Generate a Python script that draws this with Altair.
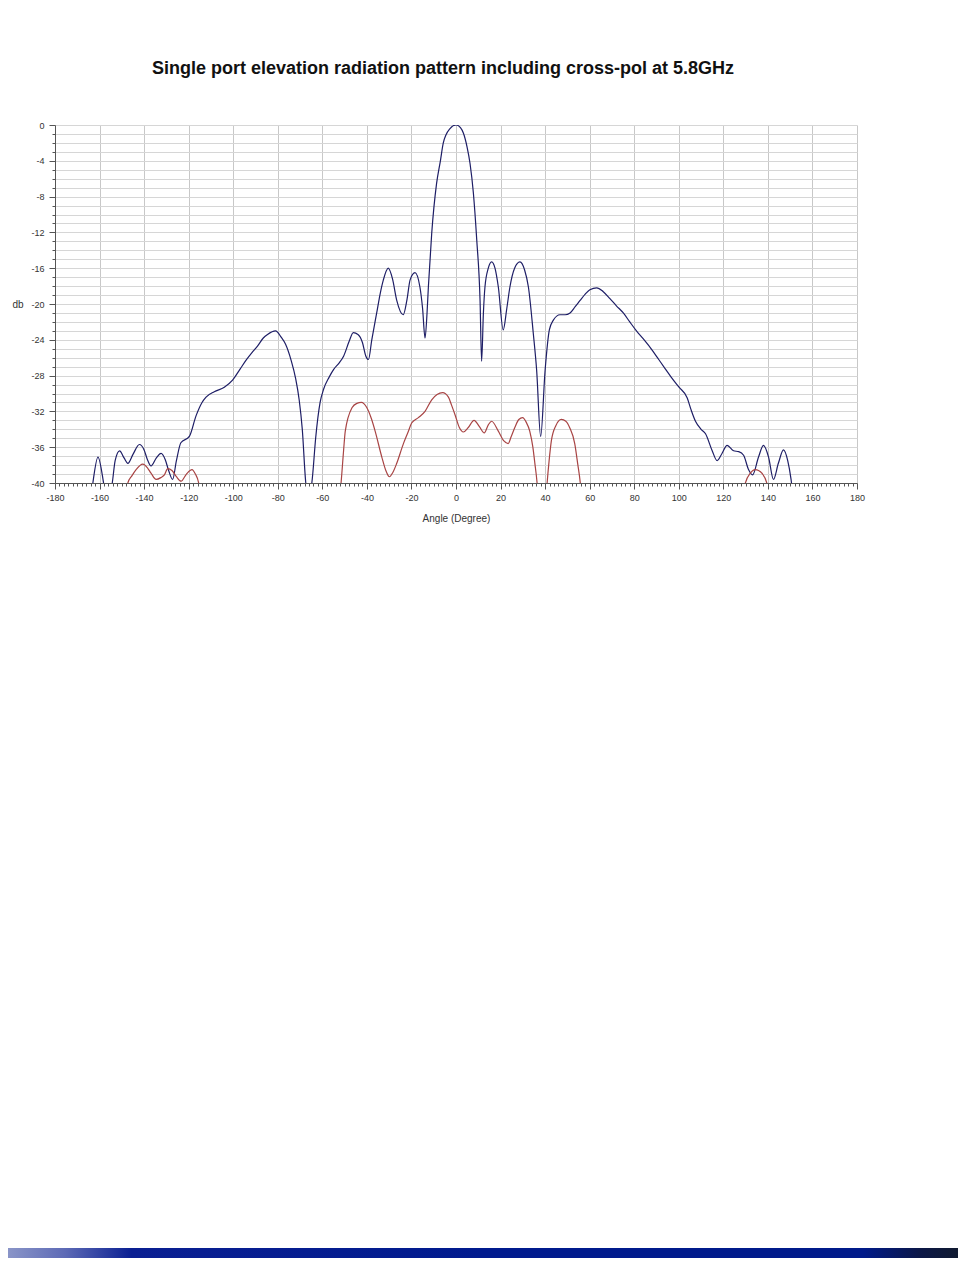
import altair as alt
import pandas as pd

# Co-polar (blue) pattern: angle (deg), level (dB); values below -40 fall outside the plot
co_angle = [-164, -163, -160.7, -158.2, -157, -156, -154.3, -153, -151, -149, -147.3, -145, -142.1,
            -140, -138.5, -136.9, -134.5, -132.4, -130.5, -129, -127.2, -125.5, -123.5, -119.7,
            -116.7, -114, -112.2, -108.5, -104, -100.3, -97, -94.3, -91.5, -89.1, -86.5, -84.6,
            -81, -78.5, -76.5, -74, -72, -70.4, -69, -67.5, -66, -64.5, -63, -61, -59.4, -57,
            -54.9, -52.5, -50.4, -48, -46.1, -44, -42, -40.5, -39.3, -37.8, -35.6, -34, -32.6,
            -30.4, -28.5, -26.6, -23.7, -22, -20.6, -18.4, -16.2, -15, -13.9, -13, -12.4, -10.9,
            -8.7, -7, -5.7, -2.7, 0, 2, 3.3, 5, 6.3, 7.8, 9.3, 10.8, 11.5, 12.3, 13.0, 14.5, 16.0,
            17.5, 19.0, 21.2, 22.8, 24.2, 26.3, 28.7, 30.8, 32.5, 34.7, 36.2, 38.0, 40, 41.9, 43.7,
            46.7, 49, 51.2, 53.5, 55.7, 58, 60.1, 63.2, 66, 69.1, 72, 75.1, 78, 81, 84.1, 88.2, 91,
            94.1, 97, 100.1, 103.8, 105.5, 107.5, 110, 112, 115, 117.2, 119.4, 121.7, 124.6, 126.9,
            129.1, 131.3, 133.1, 135.8, 138.0, 140.3, 142.5, 144.7, 147, 148.9, 150.4, 151.5]
co_db = [-42, -40, -37.1, -40, -42, -42, -40, -37.5, -36.4, -37.2, -37.8, -36.8, -35.7,
         -36.3, -37.4, -38.1, -37.2, -36.7, -37.4, -38.6, -39.6, -37.5, -35.5, -34.8,
         -32.5, -31.0, -30.4, -29.8, -29.3, -28.5, -27.3, -26.3, -25.4, -24.7, -23.8, -23.4,
         -23.0, -23.7, -24.5, -26.3, -28.3, -30.7, -34, -39.8, -42, -39.5, -35, -31, -29.5, -28.2,
         -27.3, -26.6, -25.8, -24.2, -23.2, -23.4, -24.3, -25.8, -26.2, -24.0, -21.0, -18.8, -17.3,
         -16.0, -17.2, -19.6, -21.2, -19.5, -17.3, -16.5, -18.1, -20.5, -23.8, -21, -18.1, -12.1,
         -6.5, -4, -2.0, -0.4, 0, -0.3, -0.9, -2.5, -4.3, -7.6, -12.8, -19.6, -26.4, -21, -18.1, -16, -15.3,
         -16, -18.1, -22.9, -20.5, -18.1, -16, -15.3, -16.2, -18.1, -23.3, -27.4, -34.8, -27.4, -22.9, -21.8,
         -21.2, -21.2, -21.0, -20.3, -19.6, -18.9, -18.4, -18.2, -18.6, -19.4, -20.2, -21.0, -22.0, -23.0, -23.9, -25.2, -26.2,
         -27.3, -28.3, -29.3, -30.5, -31.8, -33.1, -34.0, -34.5, -36.4, -37.5, -36.7, -35.8, -36.4, -36.5,
         -36.9, -38.5, -39.1, -37.1, -35.8, -37.1, -39.6, -37.8, -36.3, -37.5, -39.6, -42]

# Cross-polar (red) pattern
x_angle = [-148, -147.3, -145.5, -143.6, -140.6, -138.5, -136.9, -134.6, -132.5, -130.9, -129.4, -127.5,
           -125.5, -123.4, -121, -118.5, -117, -115.5, -114.5,
           -52.5, -51.6, -50.5, -49.7, -46.7, -44.5, -42.5, -40, -38, -36.3, -33.3, -31.5, -29.9, -28.3,
           -26.6, -23.6, -21.5, -19.9, -16.9, -13.9, -10.9, -8.5, -6.0, -3.4, -2, -0.4, 1.5, 3.3, 5.5, 8.1,
           10.5, 12.7, 14.5, 16.0, 19.0, 21.5, 23.4, 24.8, 26.4, 28.2, 29.9, 31.5, 33.1, 34.5, 35.4, 36.4, 37,
           40.3, 40.9, 41.8, 42.8, 44.8, 47.3, 49.3, 51.0, 53.3, 54.6, 55.8, 56.5,
           129.3, 129.9, 132.1, 134.3, 135.8, 137.3, 139.5, 140]
x_db = [-42, -40, -39.2, -38.5, -37.9, -38.3, -38.9, -39.6, -39.4, -39.1, -38.4, -38.6,
        -39.3, -39.8, -39.0, -38.5, -39.0, -40, -42,
        -42, -40, -36.5, -34.2, -31.6, -31.1, -31.0, -31.6, -32.8, -34.2, -37.1, -38.6, -39.3, -38.8,
        -37.8, -35.6, -34.3, -33.3, -32.7, -32.0, -30.7, -30.1, -29.9, -30.4, -31.3, -32.4, -33.8, -34.3, -33.8, -33.0,
        -33.7, -34.4, -33.5, -33.1, -34.2, -35.3, -35.6, -34.8, -33.8, -32.9, -32.7, -33.2, -34.2, -36, -37.8, -40, -42,
        -42, -40, -37.5, -35.3, -33.6, -32.9, -33.1, -33.8, -35.6, -37.8, -40, -42,
        -42, -40, -38.9, -38.5, -38.6, -38.9, -40, -42]

x_ticks = list(range(-180, 181, 2))
y_ticks = list(range(-40, 1, 1))

df = pd.concat([
    pd.DataFrame({"angle": co_angle, "db": co_db, "series": "co"}),
    pd.DataFrame({"angle": x_angle, "db": x_db, "series": "cross"}),
])

FONT = "Liberation Sans"

lines = alt.Chart(df).mark_line(strokeWidth=1.2, clip=True, interpolate="monotone").encode(
    x=alt.X("angle:Q",
            scale=alt.Scale(domain=[-180, 180], nice=False, zero=False),
            axis=alt.Axis(values=x_ticks,
                          labelExpr="datum.value % 20 == 0 ? toString(datum.value) : ''",
                          title="Angle (Degree)",
                          grid=True,
                          gridOpacity={"condition": {"test": "datum.value % 20 == 0", "value": 1}, "value": 0},
                          gridColor="#c8c8c8",
                          tickSize={"condition": {"test": "datum.value % 20 == 0", "value": 6}, "value": 3},
                          labelPadding=4, titlePadding=11, labelFlush=False)),
    y=alt.Y("db:Q",
            scale=alt.Scale(domain=[-40, 0], nice=False, zero=False),
            axis=alt.Axis(values=y_ticks,
                          labelExpr="datum.value % 4 == 0 ? toString(datum.value) : ''",
                          title="db", titleAngle=0, titleAlign="left", titleBaseline="middle",
                          titleX=-43, titleY=179,
                          grid=True, gridColor="#d6d6d6",
                          tickSize={"condition": {"test": "datum.value % 4 == 0", "value": 6}, "value": 3},
                          labelPadding=5)),
    color=alt.Color("series:N", scale=alt.Scale(domain=["co", "cross"], range=["#1e1e66", "#a84444"]),
                    legend=None),
)

bar_src = pd.DataFrame({"k": [0]})
bar = alt.Chart(bar_src).mark_rect(
    clip=False,
    color=alt.Gradient(
        gradient="linear", x1=0, x2=1, y1=0, y2=0,
        stops=[alt.GradientStop(color="#8a95c8", offset=0),
               alt.GradientStop(color="#5d6ab6", offset=0.06),
               alt.GradientStop(color="#0a1f92", offset=0.13),
               alt.GradientStop(color="#001a8e", offset=0.5),
               alt.GradientStop(color="#001a8a", offset=0.9),
               alt.GradientStop(color="#0b1747", offset=0.96),
               alt.GradientStop(color="#101a30", offset=1)]),
).encode(x=alt.value(-47), x2=alt.value(903), y=alt.value(1123), y2=alt.value(1133))

chart = alt.layer(bar, lines).properties(
    width=802, height=358,
    padding={"left": 47, "top": 117, "right": 101, "bottom": 775},
    autosize=alt.AutoSizeParams(type="none"),
    title=alt.TitleParams("Single port elevation radiation pattern including cross-pol at 5.8GHz",
                          font=FONT, fontSize=18, fontWeight="bold", color="#111",
                          anchor="middle", frame="group", dx=-13, offset=43),
).configure_view(stroke=None).configure_axis(
    labelFont=FONT, titleFont=FONT, labelFontSize=9, titleFontSize=10,
    labelColor="#333", titleColor="#333", domainColor="#555", tickColor="#555",
    titleFontWeight="normal",
)

chart.save("out.html", embed_options={"renderer": "svg", "actions": False})
